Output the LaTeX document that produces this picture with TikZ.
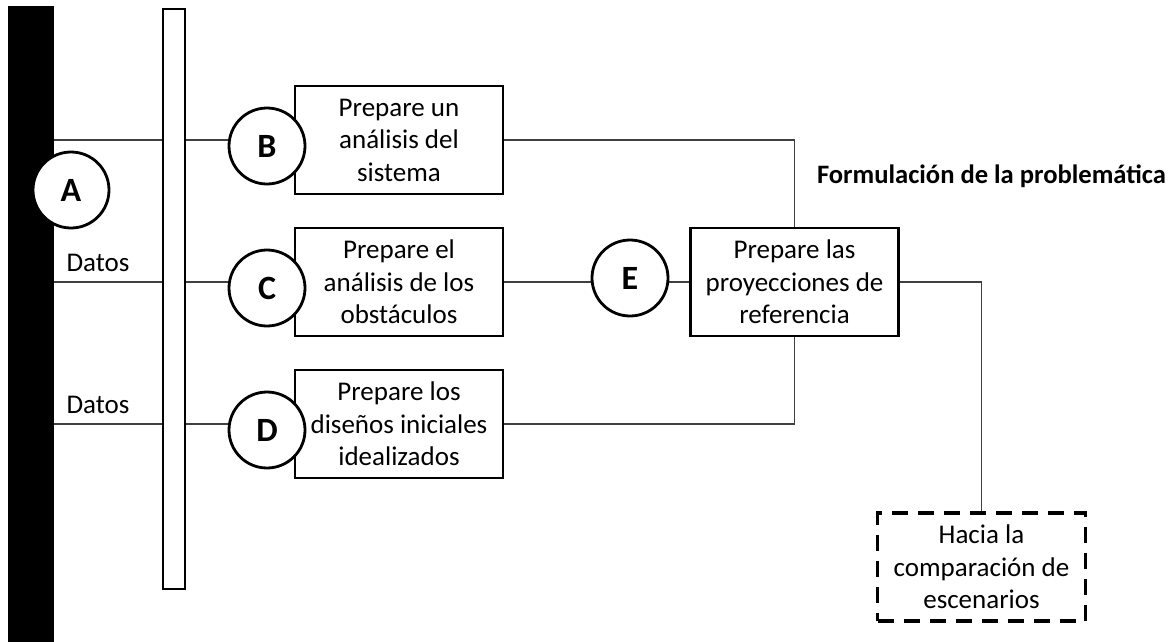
\documentclass[tikz,border=0pt]{standalone}
\usepackage{fontspec}
\setmainfont{Carlito}
\usetikzlibrary{backgrounds}
\begin{document}
\begin{tikzpicture}[x=1pt,y=-1pt,
  stepbox/.style={draw=black, line width=2.8pt, fill=white, minimum width=208pt, minimum height=108pt, inner sep=0pt, align=center, font=\fontsize{27}{32.5}\selectfont},
  dashbox/.style={draw=black, line width=3.5pt, dash pattern=on 16pt off 10pt, fill=white, minimum width=208pt, minimum height=108pt, inner sep=0pt, align=center, font=\fontsize{27}{32.5}\selectfont},
  letter/.style={circle, draw=black, line width=2.8pt, fill=white, minimum size=76pt, inner sep=0pt, font=\bfseries\fontsize{34}{40}\selectfont},
  conn/.style={draw=black!75, line width=1.4pt},
  lbl/.style={inner sep=0pt, font=\fontsize{27}{32}\selectfont}
]
\useasboundingbox (0,0) rectangle (1175,641);
% bars
\node[fill=black, minimum width=46pt, minimum height=636pt, inner sep=0pt] (blackbar) at (31,324) {};
\node[draw=black, line width=2.8pt, fill=white, minimum width=22pt, minimum height=580pt, inner sep=0pt] (whitebar) at (174,299) {};
% boxes
\node[stepbox] (boxB) at (399,140) {Prepare un\\análisis del\\sistema};
\node[stepbox] (boxC) at (399,282) {Prepare el\\análisis de los\\obstáculos};
\node[stepbox] (boxD) at (399,424) {Prepare los\\diseños iniciales\\idealizados};
\node[stepbox] (boxE) at (794.5,282) {Prepare las\\proyecciones de\\referencia};
\node[dashbox] (hacia) at (981.5,567) {Hacia la\\comparación de\\escenarios};
% circles
\node[letter] (circA) at (71,190) {A};
\node[letter] (circB) at (267,146) {B};
\node[letter] (circC) at (267,288) {C};
\node[letter] (circD) at (267,430) {D};
\node[letter] (circE) at (630,278) {E};
% labels
\node[lbl] (datos1) at (98,263) {Datos};
\node[lbl] (datos2) at (98,405) {Datos};
\node[lbl, font=\bfseries\fontsize{26.6}{32}\selectfont] (formu) at (991.5,176) {Formulación de la problemática};
% connectors
\begin{scope}[on background layer]
\draw[conn] (blackbar.east |- boxB) -- (whitebar.west |- boxB);
\draw[conn] (blackbar.east |- boxC) -- (whitebar.west |- boxC);
\draw[conn] (blackbar.east |- boxD) -- (whitebar.west |- boxD);
\draw[conn] (whitebar.east |- boxB) -- (boxB.west);
\draw[conn] (whitebar.east |- boxC) -- (boxC.west);
\draw[conn] (whitebar.east |- boxD) -- (boxD.west);
\draw[conn] (boxB.east) -- (boxB.east -| boxE.north) -- (boxE.north);
\draw[conn] (boxC.east) -- (boxE.west);
\draw[conn] (boxD.east) -- (boxD.east -| boxE.south) -- (boxE.south);
\draw[conn] (boxE.east) -- (boxE.east -| hacia.north) -- (hacia.north);
\end{scope}
\end{tikzpicture}
\end{document}
